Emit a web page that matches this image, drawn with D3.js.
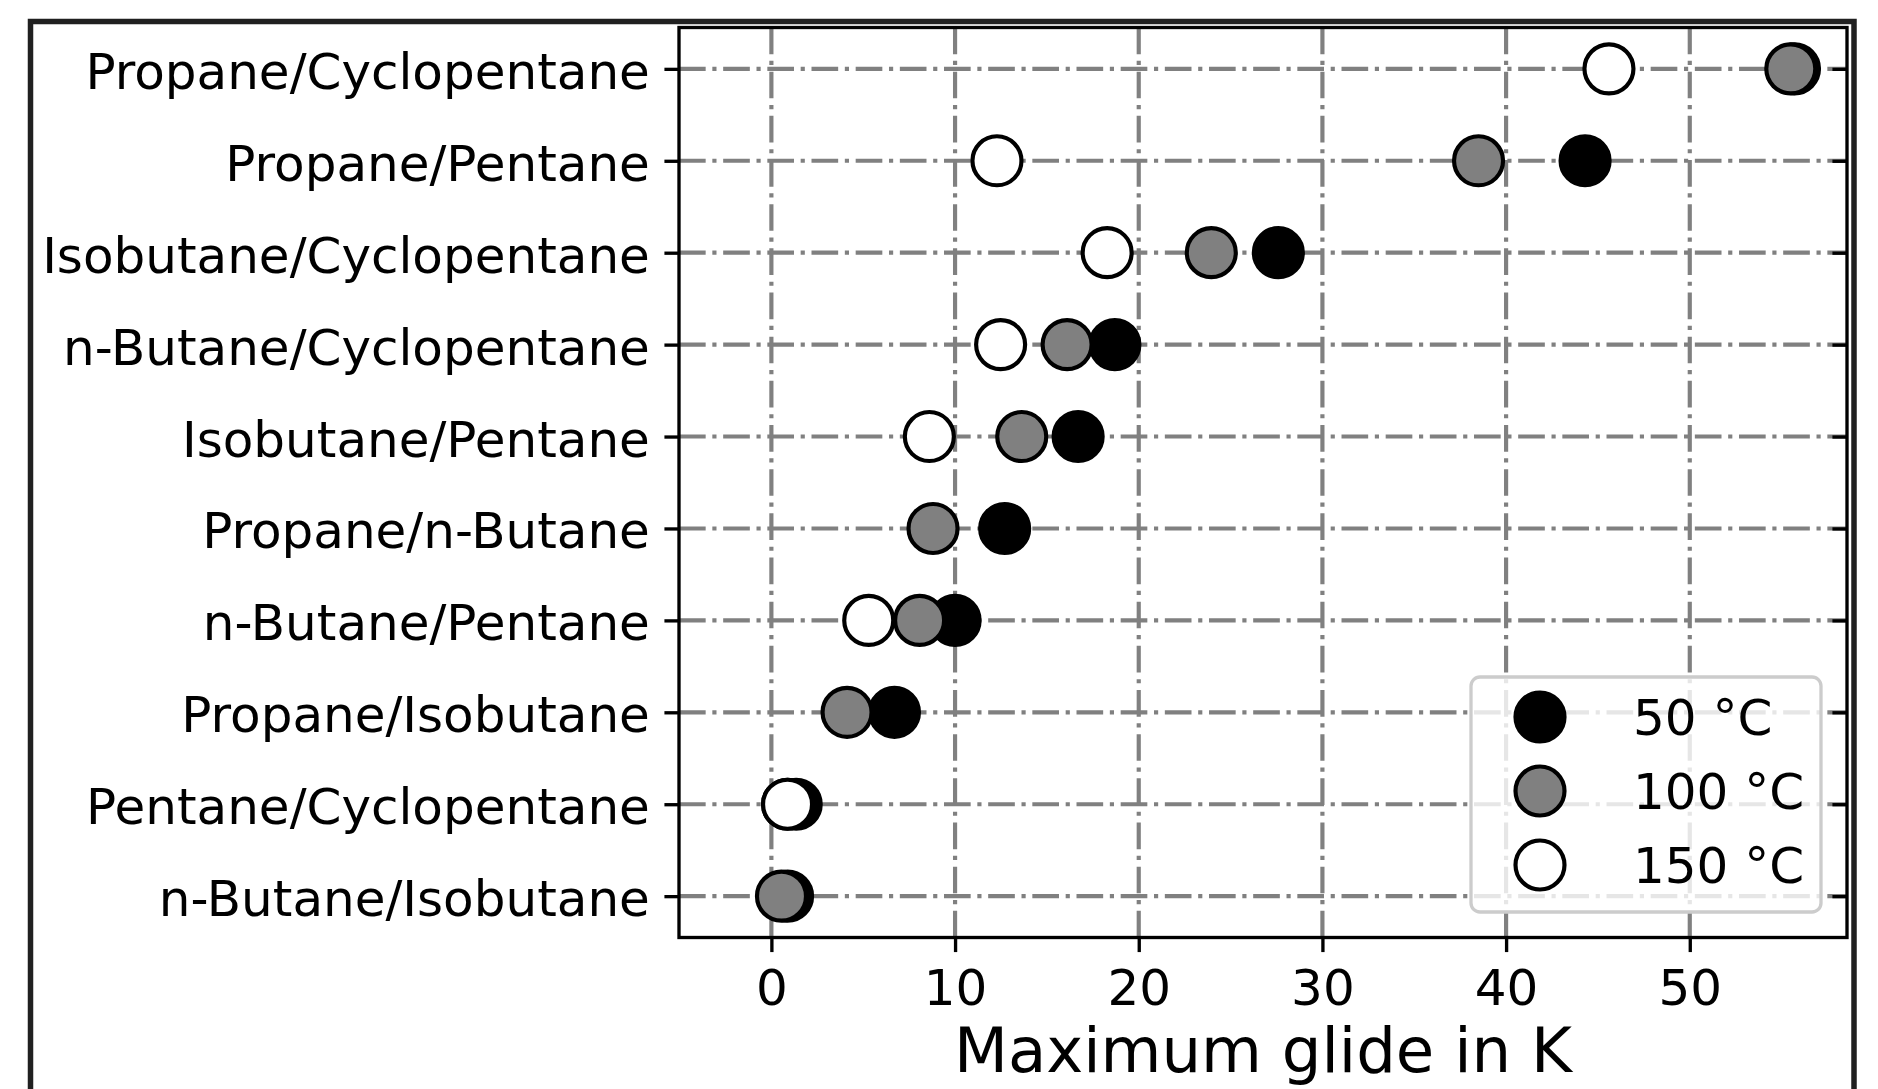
<!DOCTYPE html>
<html>
<head>
<meta charset="utf-8">
<script src="https://cdn.jsdelivr.net/npm/d3@7"></script>
<style>
html,body{margin:0;padding:0;background:#fff;}
svg{display:block;}
text{font-family:"DejaVu Sans",sans-serif;fill:#000;}
</style>
</head>
<body>
<svg id="chart" width="1878" height="1089"></svg>
<script>
const categories = ["Propane/Cyclopentane","Propane/Pentane","Isobutane/Cyclopentane","n-Butane/Cyclopentane","Isobutane/Pentane","Propane/n-Butane","n-Butane/Pentane","Propane/Isobutane","Pentane/Cyclopentane","n-Butane/Isobutane"];
const glide50  = [55.7, 44.3, 27.6, 18.7, 16.7, 12.7, 10.0, 6.7, 1.35, 0.88];
const glide100 = [55.5, 38.5, 23.95, 16.1, 13.63, 8.8, 8.07, 4.12, 0.88, 0.55];
const glide150 = [45.6, 12.28, 18.28, 12.48, 8.6, null, 5.3, null, 0.88, null];
const seriesNames = ["50 °C", "100 °C", "150 °C"];
const seriesFills = ["#000000", "#808080", "#ffffff"];
const xTicks = [0, 10, 20, 30, 40, 50];
const xLabel = "Maximum glide in K";

const svg = d3.select("#chart");
const L = 679, R = 1847, T = 27.5, B = 937.5;
const pt = 4.1667;

const x = d3.scaleLinear().domain([-5.03, 58.56]).range([L, R]);
const y = d3.scalePoint().domain(categories).range([T, B]).padding(0.45);

// outer frame
svg.append("rect").attr("x", 30.5).attr("y", 21.5).attr("width", 1823.5).attr("height", 1200)
  .attr("fill", "none").attr("stroke", "#202020").attr("stroke-width", 5.5);

// grid
const dash = [6.4*pt, 1.6*pt, 1*pt, 1.6*pt].join(",");
const grid = svg.append("g");
grid.selectAll("line.v").data(xTicks).join("line")
  .attr("x1", d => x(d)).attr("x2", d => x(d)).attr("y1", B).attr("y2", T)
  .attr("stroke", "#808080").attr("stroke-width", pt).attr("stroke-dasharray", dash);
grid.selectAll("line.h").data(categories).join("line")
  .attr("x1", L).attr("x2", R).attr("y1", d => y(d)).attr("y2", d => y(d))
  .attr("stroke", "#808080").attr("stroke-width", pt).attr("stroke-dasharray", dash);

// axes
const tickLen = 3.5*pt;
const xAxis = svg.append("g").attr("transform", `translate(0,${B})`)
  .call(d3.axisBottom(x).tickValues(xTicks).tickFormat(d3.format("d")).tickSize(tickLen).tickSizeOuter(0));
xAxis.select(".domain").remove();
xAxis.selectAll("line").attr("stroke", "#000").attr("stroke-width", 0.8*pt);
xAxis.selectAll("text").attr("y", 67.5).attr("dy", null).attr("font-size", 50)
  .attr("font-family", "DejaVu Sans").attr("fill", "#000");

const yAxis = svg.append("g").attr("transform", `translate(${L},0)`)
  .call(d3.axisLeft(y).tickSize(tickLen).tickPadding(tickLen).tickSizeOuter(0));
yAxis.select(".domain").remove();
yAxis.selectAll("line").attr("stroke", "#000").attr("stroke-width", 0.8*pt);
yAxis.selectAll("text").attr("dy", "0.39em").attr("font-size", 50)
  .attr("font-family", "DejaVu Sans").attr("fill", "#000");

const yAxisR = svg.append("g").attr("transform", `translate(${R},0)`)
  .call(d3.axisLeft(y).tickSize(tickLen).tickFormat("").tickSizeOuter(0));
yAxisR.select(".domain").remove();
yAxisR.selectAll("line").attr("stroke", "#000").attr("stroke-width", 0.8*pt);

// spines
svg.append("rect").attr("x", L).attr("y", T).attr("width", R - L).attr("height", B - T)
  .attr("fill", "none").attr("stroke", "#000").attr("stroke-width", 0.8*pt);

// points
const series = [glide50, glide100, glide150];
const rad = 24.5;
series.forEach((vals, si) => {
  const data = categories.map((c, i) => ({c, v: vals[i]})).filter(d => d.v !== null);
  svg.append("g").selectAll("circle").data(data).join("circle")
    .attr("cx", d => x(d.v)).attr("cy", d => y(d.c)).attr("r", rad)
    .attr("fill", seriesFills[si]).attr("stroke", "#000").attr("stroke-width", pt);
});

// legend
const lg = svg.append("g");
lg.append("rect").attr("x", 1471).attr("y", 677).attr("width", 350).attr("height", 235).attr("rx", 9)
  .attr("fill", "#fff").attr("fill-opacity", 0.8).attr("stroke", "#cccccc").attr("stroke-width", 3.3);
const legY = [717, 791, 865];
seriesNames.forEach((n, i) => {
  lg.append("circle").attr("cx", 1540).attr("cy", legY[i]).attr("r", rad)
    .attr("fill", seriesFills[i]).attr("stroke", "#000").attr("stroke-width", pt);
  lg.append("text").attr("x", 1633).attr("y", legY[i] + 18).attr("font-size", 50).text(n);
});

// x label (nudged up slightly so the descender stays inside the picture)
svg.append("text").attr("x", (L + R) / 2).attr("y", 1072).attr("text-anchor", "middle")
  .attr("font-size", 62.5).text(xLabel);
</script>
</body>
</html>
